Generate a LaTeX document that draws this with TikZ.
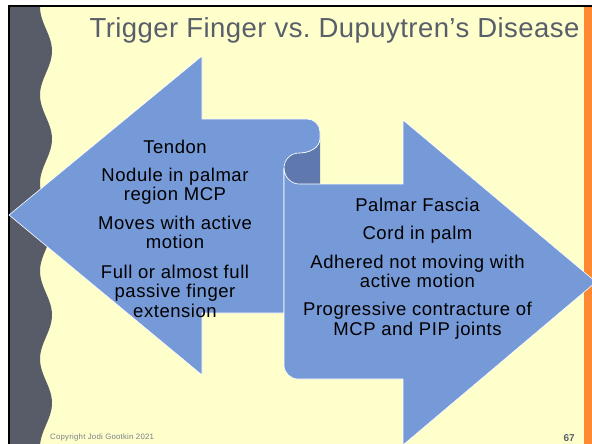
\documentclass[tikz,border=0pt]{standalone}
\usepackage{fontspec}
\setmainfont{Liberation Sans}
\newfontfamily\titlefont[LetterSpace=1.6]{Liberation Sans}
\newfontfamily\bodyfont[LetterSpace=3]{Liberation Sans}
\newfontfamily\footfont[LetterSpace=3]{Liberation Sans}
\definecolor{bgyellow}{HTML}{FFFFCC}
\definecolor{stripgray}{HTML}{575C68}
\definecolor{sideorange}{HTML}{FF8833}
\definecolor{titlegray}{HTML}{585E6A}
\definecolor{arrowblue}{HTML}{7699D7}
\definecolor{curlblue}{HTML}{5F79AE}
\definecolor{footgray}{HTML}{7A7F8A}
\definecolor{numgray}{HTML}{5A5F6A}
\frenchspacing
\begin{document}
\begin{tikzpicture}[x=1pt,y=-1pt,
  arrowshape/.style={fill=arrowblue,draw=white,line width=0.6pt,line join=miter},
  bodytext/.style={font=\bodyfont\fontsize{18.5}{21}\selectfont,text=black,inner sep=0pt,anchor=base},
  titletext/.style={font=\titlefont\fontsize{27.5}{32}\selectfont,text=titlegray,inner sep=0pt,anchor=base},
  foottext/.style={font=\footfont\fontsize{7.8}{9}\selectfont,text=footgray,inner sep=0pt,anchor=base west},
  numtext/.style={font=\bfseries\fontsize{10}{12}\selectfont,text=numgray,inner sep=0pt,anchor=base east}]
\useasboundingbox (0,0) rectangle (592,444);
\clip (0,0) rectangle (592,444);
% slide frame
\fill[white] (0,0) rectangle (592,444);
\fill[bgyellow] (10,7) rectangle (584,444);
\fill[black] (8,5) rectangle (592,7);
\fill[black] (8,5) rectangle (10,444);
\fill[sideorange] (584,7) rectangle (592,444);
\fill[stripgray] (10,7) -- plot[domain=7:444,samples=150,variable=\t] ({46-6*cos(4.0909*(\t-7))},\t) -- (10,444) -- cycle;
% title
\node[titletext] (title) at (334.5,38) {Trigger Finger vs.\ Dupuytren’s Disease};
% curl back side
\fill[curlblue] (299,153) .. controls (290.7,153) and (284,159.7) .. (284,168)
  .. controls (284,176.3) and (290.7,184) .. (299,184) -- (320,184) -- (320,138)
  .. controls (320,148) and (309,153) .. (299,153) -- cycle;
\draw[white,line width=0.6pt] (320,138) .. controls (320,148) and (309,153) .. (299,153);
% left arrow
\path[arrowshape] (9,215) -- (202,56) -- (202,119) -- (307,119)
  .. controls (314.2,119) and (320,124.8) .. (320,132) -- (320,138)
  .. controls (320,148) and (309,153) .. (299,153)
  .. controls (290.7,153) and (284,159.7) .. (284,168) -- (284,313) -- (202,313) -- (202,375) -- cycle;
% right arrow
\path[arrowshape] (284,168) -- (284,365) .. controls (284,372.7) and (290.3,379) .. (298,379)
  -- (403,379) -- (403,445) -- (596,282) -- (403,120) -- (403,184) -- (299,184)
  .. controls (290.7,184) and (284,176.3) .. (284,168) -- cycle;
% left texts
\node[bodytext] (l1) at (175,153) {Tendon};
\node[bodytext] (l2) at (175,181) {Nodule in palmar};
\node[bodytext] (l3) at (175,200.5) {region MCP};
\node[bodytext] (l4) at (175,229) {Moves with active};
\node[bodytext] (l5) at (175,248.5) {motion};
\node[bodytext] (l6) at (175,278) {Full or almost full};
\node[bodytext] (l7) at (175,297.5) {passive finger};
\node[bodytext] (l8) at (175,317) {extension};
% right texts
\node[bodytext] (r1) at (417.5,211) {Palmar Fascia};
\node[bodytext] (r2) at (417.5,239) {Cord in palm};
\node[bodytext] (r3) at (417.5,268) {Adhered not moving with};
\node[bodytext] (r4) at (417.5,287.5) {active motion};
\node[bodytext] (r5) at (417.5,315.5) {Progressive contracture of};
\node[bodytext] (r6) at (417.5,335) {MCP and PIP joints};
% footer
\node[foottext] (foot) at (50,439) {Copyright Jodi Gootkin 2021};
\node[numtext] (num) at (575,441) {67};
\end{tikzpicture}
\end{document}
